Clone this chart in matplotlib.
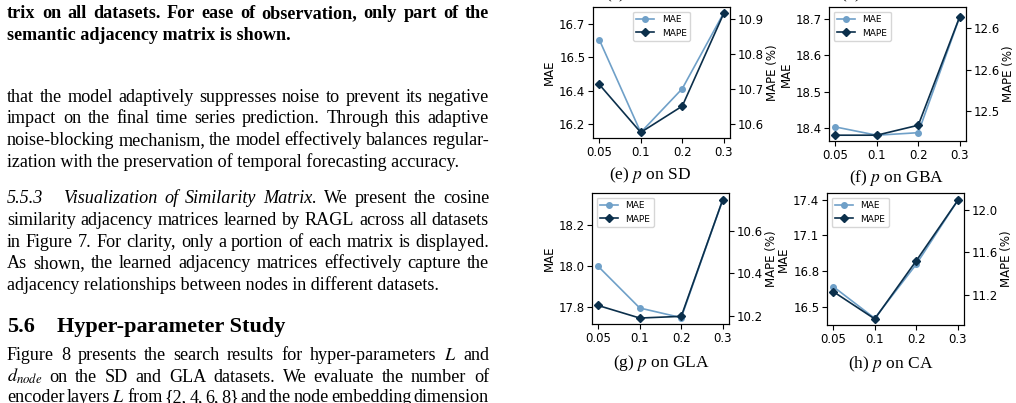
import matplotlib
matplotlib.use('Agg')
import matplotlib.pyplot as plt

# ---- data ----
p_labels = ['0.05', '0.1', '0.2', '0.3']

sd_mae = [16.58, 16.164, 16.36, 16.70]
sd_mape = [10.714, 10.577, 10.652, 10.917]
gba_mae = [18.402, 18.379, 18.386, 18.707]
gba_mape = [12.471, 12.471, 12.483, 12.614]
gla_mae = [18.0, 17.797, 17.75, 18.325]
gla_mape = [10.248, 10.189, 10.197, 10.746]
ca_mae = [16.669, 16.402, 16.857, 17.394]
ca_mape = [11.231, 10.974, 11.521, 12.088]

sd_mae_ticks = [16.2, 16.35, 16.5, 16.65]
sd_mae_ticklabels = ['16.2', '16.4', '16.5', '16.7']
sd_mape_ticks = [10.6, 10.7, 10.8, 10.9]
gba_mae_ticks = [18.4, 18.5, 18.6, 18.7]
gba_mape_ticks = [12.5, 12.55, 12.6]
gba_mape_ticklabels = ['12.5', '12.6', '12.6']
gla_mae_ticks = [17.8, 18.0, 18.2]
gla_mape_ticks = [10.2, 10.4, 10.6]
ca_mae_ticks = [16.5, 16.8, 17.1, 17.4]
ca_mape_ticks = [11.2, 11.6, 12.0]

MAE_C = '#6fa0c8'
MAPE_C = '#0b2f4b'

W, H = 1016, 403
plt.rcParams['mathtext.fontset'] = 'stix'
fig = plt.figure(figsize=(W / 100, H / 100), dpi=100)
rend = fig.canvas.get_renderer()


def px_axes(x0, y0, x1, y1):
    return fig.add_axes([x0 / W, 1 - y1 / H, (x1 - x0) / W, (y1 - y0) / H])


def panel(box, mae, mape, lim1, ticks1, lim2, ticks2, loc,
          labels1=None, labels2=None):
    ax = px_axes(*box)
    x = range(len(p_labels))
    l1, = ax.plot(x, mae, '-o', color=MAE_C, lw=1.2, ms=4, label='MAE')
    ax.set_ylim(*lim1)
    ax.set_yticks(ticks1, labels1 if labels1 else ['%.1f' % t for t in ticks1])
    ax.set_xticks(list(x), p_labels)
    ax.set_ylabel('MAE', fontsize=8.5, labelpad=2)
    ax.tick_params(labelsize=8.5, pad=2)
    ax2 = ax.twinx()
    l2, = ax2.plot(x, mape, '-D', color=MAPE_C, lw=1.2, ms=3.8, label='MAPE')
    ax2.set_ylim(*lim2)
    ax2.set_yticks(ticks2, labels2 if labels2 else ['%.1f' % t for t in ticks2])
    ax2.set_ylabel('MAPE (%)', fontsize=8.5, labelpad=1.5)
    ax2.tick_params(labelsize=8.5, pad=2)
    ax2.legend(handles=[l1, l2], loc=loc, fontsize=6.5)
    return ax


panel((593, 7, 730, 138), sd_mae, sd_mape, (16.139, 16.726), sd_mae_ticks,
      (10.561, 10.935), sd_mape_ticks, 'upper center', labels1=sd_mae_ticklabels)
panel((829, 7, 966, 141), gba_mae, gba_mape, (18.363, 18.734), gba_mae_ticks,
      (12.464, 12.6255), gba_mape_ticks, 'upper left', labels2=gba_mape_ticklabels)
panel((592, 193, 729, 324), gla_mae, gla_mape, (17.719, 18.358), gla_mae_ticks,
      (10.161, 10.777), gla_mape_ticks, 'upper left')
panel((827, 193, 964, 325), ca_mae, ca_mape, (16.346, 17.456), ca_mae_ticks,
      (10.917, 12.158), ca_mape_ticks, 'upper left')

CAP = dict(family='Liberation Serif', size=12.5, ha='center', va='baseline')
fig.text(650 / W, 1 - 179 / H, '(e) $p$ on SD', **CAP)
fig.text(897 / W, 1 - 182.5 / H, '(f) $p$ on GBA', **CAP)
fig.text(662 / W, 1 - 367 / H, '(g) $p$ on GLA', **CAP)
fig.text(891 / W, 1 - 368 / H, '(h) $p$ on CA', **CAP)
# captions of the row above, cut off by the page crop
fig.text(605 / W, 1 + 1.5 / H, '(c) $d_{node}$ on SD', family='Liberation Serif',
         size=12.5, va='baseline')
fig.text(840 / W, 1 + 1.5 / H, '(d) $d_{node}$ on GLA', family='Liberation Serif',
         size=12.5, va='baseline')

# ---- paper text on the left ----
BODY = dict(family='Liberation Serif', size=13.1)
BOLD = dict(BODY, weight='bold')
ITAL = dict(BODY, style='italic')
X0, X1 = 7, 489


def put_line(y, items, x0=X0, x1=X1, justify=True):
    ts = [fig.text(0, 1 - y / H, w, va='baseline', **st) for w, st in items]
    if not justify:
        for t in ts:
            t.set_x(x0 / W)
        return
    ws = [t.get_window_extent(renderer=rend).width for t in ts]
    gap = (x1 - x0 - sum(ws)) / (len(ts) - 1)
    x = x0
    for t, w in zip(ts, ws):
        t.set_x(x / W)
        x += w + gap


def words(s, st):
    return [(w, st) for w in s.split()]


put_line(18.3, words('trix on all datasets. For ease of observation, only part of the', BOLD))
put_line(40, [('semantic adjacency matrix is shown.', BOLD)], justify=False)

put_line(101.5, words('that the model adaptively suppresses noise to prevent its negative', BODY))
put_line(123.2, words('impact on the final time series prediction. Through this adaptive', BODY))
put_line(144.9, words('noise-blocking mechanism, the model effectively balances regular-', BODY))
put_line(166.6, [('ization with the preservation of temporal forecasting accuracy.', BODY)],
         justify=False)

fig.text(X0 / W, 1 - 203.3 / H, '5.5.3', va='baseline', **ITAL)
put_line(203.3, words('Visualization of Similarity Matrix.', ITAL)
         + words('We present the cosine', BODY), x0=63)
put_line(225, words('similarity adjacency matrices learned by RAGL across all datasets', BODY))
put_line(246.7, words('in Figure 7. For clarity, only a portion of each matrix is displayed.', BODY))
put_line(268.3, words('As shown, the learned adjacency matrices effectively capture the', BODY))
put_line(290, [('adjacency relationships between nodes in different datasets.', BODY)],
         justify=False)

HEAD = dict(family='Liberation Serif', size=16, weight='bold')
fig.text(X0 / W, 1 - 331.7 / H, '5.6', va='baseline', **HEAD)
fig.text(57 / W, 1 - 331.7 / H, 'Hyper-parameter Study', va='baseline', **HEAD)

put_line(360, words('Figure 8 presents the search results for hyper-parameters $L$ and', BODY))
put_line(381.7, words('$d_{node}$ on the SD and GLA datasets. We evaluate the number of', BODY))
put_line(401.7, words('encoder layers $L$ from {2, 4, 6, 8} and the node embedding dimension', BODY))

fig.savefig('out.png', dpi=100)
